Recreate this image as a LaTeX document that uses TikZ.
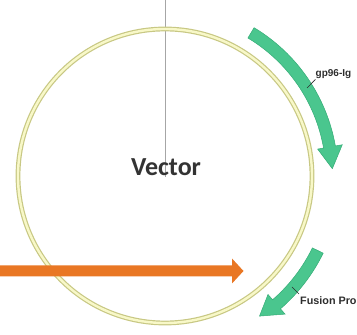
\documentclass[tikz,border=0pt]{standalone}
\usepackage{fontspec}
\setmainfont{Liberation Sans}
\newfontfamily\titlefont{Carlito}
\usetikzlibrary{calc}
\definecolor{ringedge}{RGB}{200,200,132}
\definecolor{ringfill}{RGB}{248,248,200}
\definecolor{genegreen}{RGB}{74,198,142}
\definecolor{geneedge}{RGB}{52,172,118}
\definecolor{promorange}{RGB}{233,119,36}
\definecolor{labelgray}{RGB}{45,45,45}
\tikzset{
  ringline/.style={line width=4.8pt, ringedge},
  ringinner/.style={line width=2.4pt, ringfill},
  genearrow/.style={fill=genegreen, draw=geneedge, line width=0.5pt, line join=miter},
  promarrow/.style={fill=promorange, draw=none},
  axisline/.style={draw=black!35, line width=0.8pt},
  leader/.style={draw=labelgray, line width=0.6pt},
  genelabel/.style={inner sep=0pt, text=labelgray, font=\bfseries},
}
\begin{document}
\begin{tikzpicture}[x=1pt,y=1pt]
  \useasboundingbox (0,0) rectangle (357,335);
  \clip (0,0) rectangle (357,335);
  % plasmid centre
  \coordinate (C) at (165,159);
  % marker line from the top edge
  \coordinate (axtop) at (165,335);
  \coordinate (axbot) at (165,158);
  \draw[axisline] (axtop) -- (axbot);
  % backbone ring
  \draw[ringline] (C) circle (147);
  \draw[ringinner] (C) circle (147);
  % vector name
  \node[font=\titlefont\bfseries\fontsize{26}{30}\selectfont, text=black!80] (vec) at (166,168) {Vector};
  % upper gene block (gp96-Ig)
  \filldraw[genearrow]
    ($(C)+(59:173)$) arc[start angle=59, end angle=10, radius=173]
    -- ($(C)+(10:180)$) -- ($(C)+(2.5:167.5)$) -- ($(C)+(10:155)$)
    -- ($(C)+(10:161)$) arc[start angle=10, end angle=59, radius=161] -- cycle;
  % lower gene block (fusion protein)
  \filldraw[genearrow]
    ($(C)+(-26:176)$) arc[start angle=-26, end angle=-49, radius=176]
    -- ($(C)+(-49:183)$) -- ($(C)+(-56:169)$) -- ($(C)+(-49:157)$)
    -- ($(C)+(-49:164)$) arc[start angle=-49, end angle=-26, radius=164] -- cycle;
  % promoter arrow
  \fill[promarrow] (-2,58.5) -- (232,58.5) -- (232,51.5) -- (243.5,64)
    -- (232,76.5) -- (232,69.5) -- (-2,69.5) -- cycle;
  % labels with leader lines
  \node[genelabel, font=\bfseries\fontsize{10}{12}\selectfont, anchor=base west] (gplab) at (315.5,258) {gp96-Ig};
  \coordinate (gpfoot) at (307,247);
  \draw[leader] (gpfoot) -- (gplab.south west);
  \node[genelabel, font=\bfseries\fontsize{10.8}{13}\selectfont, anchor=base west] (fuslab) at (300,30) {Fusion Pro};
  \coordinate (fusfoot) at (292,48);
  \draw[leader] (fusfoot) -- ([xshift=-1pt,yshift=3pt]fuslab.north west);
\end{tikzpicture}
\end{document}
